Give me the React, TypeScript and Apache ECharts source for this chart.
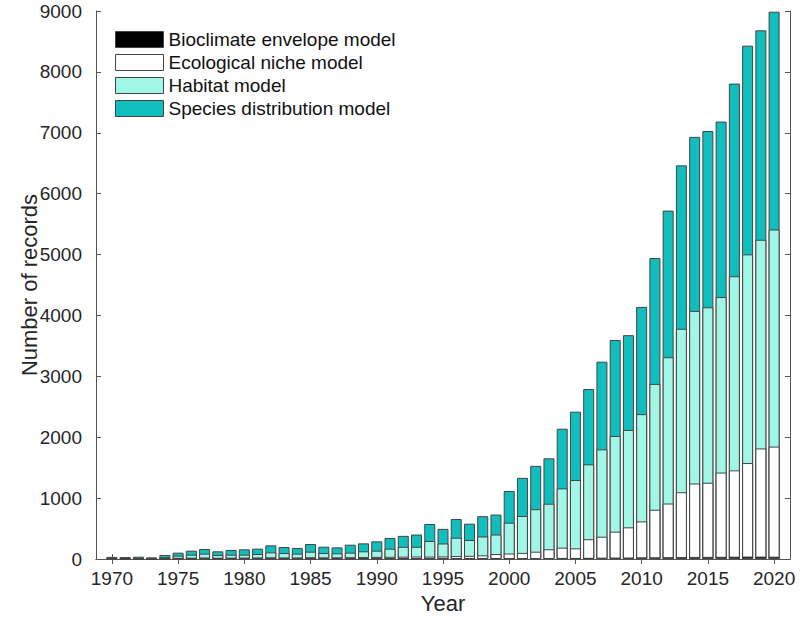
import React, { useEffect, useRef } from "react";
import * as echarts from "echarts";

const years: number[] = [];
for (let y = 1970; y <= 2020; y++) years.push(y);

const bioclimate = [8, 6, 6, 4, 5, 5, 6, 6, 5, 6, 6, 6, 7, 7, 7, 8, 8, 8, 8, 9, 9, 10, 10, 10, 11, 11, 12, 12, 13, 14, 14, 15, 16, 17, 18, 18, 20, 22, 24, 25, 27, 28, 30, 32, 34, 35, 36, 38, 40, 40, 38];
const ecological = [2, 2, 2, 2, 7, 15, 16, 19, 15, 16, 18, 19, 21, 19, 18, 22, 20, 20, 22, 23, 26, 26, 28, 31, 29, 31, 37, 40, 47, 68, 76, 85, 104, 143, 168, 157, 305, 344, 425, 495, 590, 781, 881, 1065, 1206, 1217, 1384, 1418, 1536, 1776, 1808];
const habitat = [5, 4, 6, 4, 18, 35, 49, 63, 46, 49, 47, 57, 81, 72, 63, 90, 70, 65, 74, 94, 102, 134, 162, 159, 255, 213, 301, 260, 310, 320, 507, 606, 698, 748, 974, 1122, 1230, 1435, 1571, 1600, 1762, 2067, 2403, 2684, 2835, 2882, 2882, 3188, 3427, 3427, 3565];
const speciesDist = [20, 21, 24, 17, 36, 49, 66, 76, 60, 77, 88, 88, 115, 99, 93, 126, 104, 98, 131, 131, 153, 175, 180, 202, 280, 240, 307, 268, 333, 328, 520, 627, 712, 745, 980, 1123, 1237, 1440, 1577, 1556, 1761, 2067, 2408, 2684, 2858, 2895, 2882, 3164, 3428, 3440, 3577];

const xTicks = [1970, 1975, 1980, 1985, 1990, 1995, 2000, 2005, 2010, 2015, 2020];
const seriesNames = ["Bioclimate envelope model", "Ecological niche model", "Habitat model", "Species distribution model"];
const seriesColors = ["#000000", "#ffffff", "#a0f7e6", "#10bebe"];

const FONT = "Liberation Sans, Arial, Helvetica, sans-serif";
const TXT = "#262626";
const AX = "#555555";

export default function App() {
  const ref = useRef<HTMLDivElement>(null);
  useEffect(() => {
    if (!ref.current) return;
    const chart = echarts.init(ref.current, undefined, { renderer: "svg" });
    const layers = [bioclimate, ecological, habitat, speciesDist];
    // cumulative tops of each stacked layer
    const cumulative = layers.map((_, i) =>
      years.map((_, k) => layers.slice(0, i + 1).reduce((s, arr) => s + arr[k], 0))
    );
    // draw topmost layer first, so lower layers overlay it
    const order = [3, 2, 1, 0];
    const series = order.map((i) => ({
      name: seriesNames[i],
      type: "bar",
      barWidth: 11,
      barGap: "-100%",
      xAxisIndex: 0,
      yAxisIndex: 0,
      z: 2 + (3 - i),
      data: cumulative[i].map((v, k) => [years[k], v]),
      itemStyle: { color: seriesColors[i], borderColor: "#444", borderWidth: 1 },
    }));
    chart.setOption({
      animation: false,
      textStyle: { fontFamily: FONT },
      legend: {
        orient: "vertical",
        left: 110,
        top: 25,
        itemWidth: 48,
        itemHeight: 16,
        itemGap: 4,
        icon: "rect",
        selectedMode: false,
        textStyle: { fontSize: 19, color: "#111", fontFamily: FONT },
        data: seriesNames.map((n, i) => ({
          name: n,
          itemStyle: { color: seriesColors[i], borderColor: "#444", borderWidth: 1 },
        })),
      },
      grid: { left: 96, right: 16, top: 11, bottom: 61 },
      xAxis: [
        {
          type: "value",
          min: 1968.8,
          max: 2021.2,
          name: "Year",
          nameLocation: "middle",
          nameGap: 33,
          nameMoveOverlap: false,
          nameTextStyle: { fontSize: 22, color: TXT, fontFamily: FONT },
          axisLine: { show: true, lineStyle: { color: AX } },
          axisTick: { show: true, inside: true, length: 5, customValues: xTicks, lineStyle: { color: AX } },
          axisLabel: {
            customValues: xTicks,
            fontSize: 19,
            color: TXT,
            margin: 10,
            fontFamily: FONT,
            formatter: (v: number) => String(v),
          },
          splitLine: { show: false },
        },
        {
          type: "value",
          position: "top",
          min: 1968.8,
          max: 2021.2,
          axisLine: { show: true, lineStyle: { color: AX } },
          axisTick: { show: true, inside: true, length: 5, customValues: xTicks, lineStyle: { color: AX } },
          axisLabel: { show: false },
          splitLine: { show: false },
        },
      ],
      yAxis: [
        {
          type: "value",
          min: 0,
          max: 9000,
          interval: 1000,
          name: "Number of records",
          nameLocation: "middle",
          nameGap: 56,
          nameMoveOverlap: false,
          nameTextStyle: { fontSize: 22, color: TXT, fontFamily: FONT },
          axisLine: { show: true, lineStyle: { color: AX } },
          axisTick: { show: true, inside: true, length: 5, lineStyle: { color: AX } },
          axisLabel: {
            fontSize: 19,
            color: TXT,
            margin: 14,
            fontFamily: FONT,
            formatter: (v: number) => String(v),
          },
          splitLine: { show: false },
        },
        {
          type: "value",
          position: "right",
          min: 0,
          max: 9000,
          interval: 1000,
          axisLine: { show: true, lineStyle: { color: AX } },
          axisTick: { show: true, inside: true, length: 5, lineStyle: { color: AX } },
          axisLabel: { show: false },
          splitLine: { show: false },
        },
      ],
      series,
    });
    return () => chart.dispose();
  }, []);
  return (
    <div
      ref={ref}
      style={{ position: "fixed", left: 0, top: 0, width: 806, height: 620, background: "#fff" }}
    />
  );
}
